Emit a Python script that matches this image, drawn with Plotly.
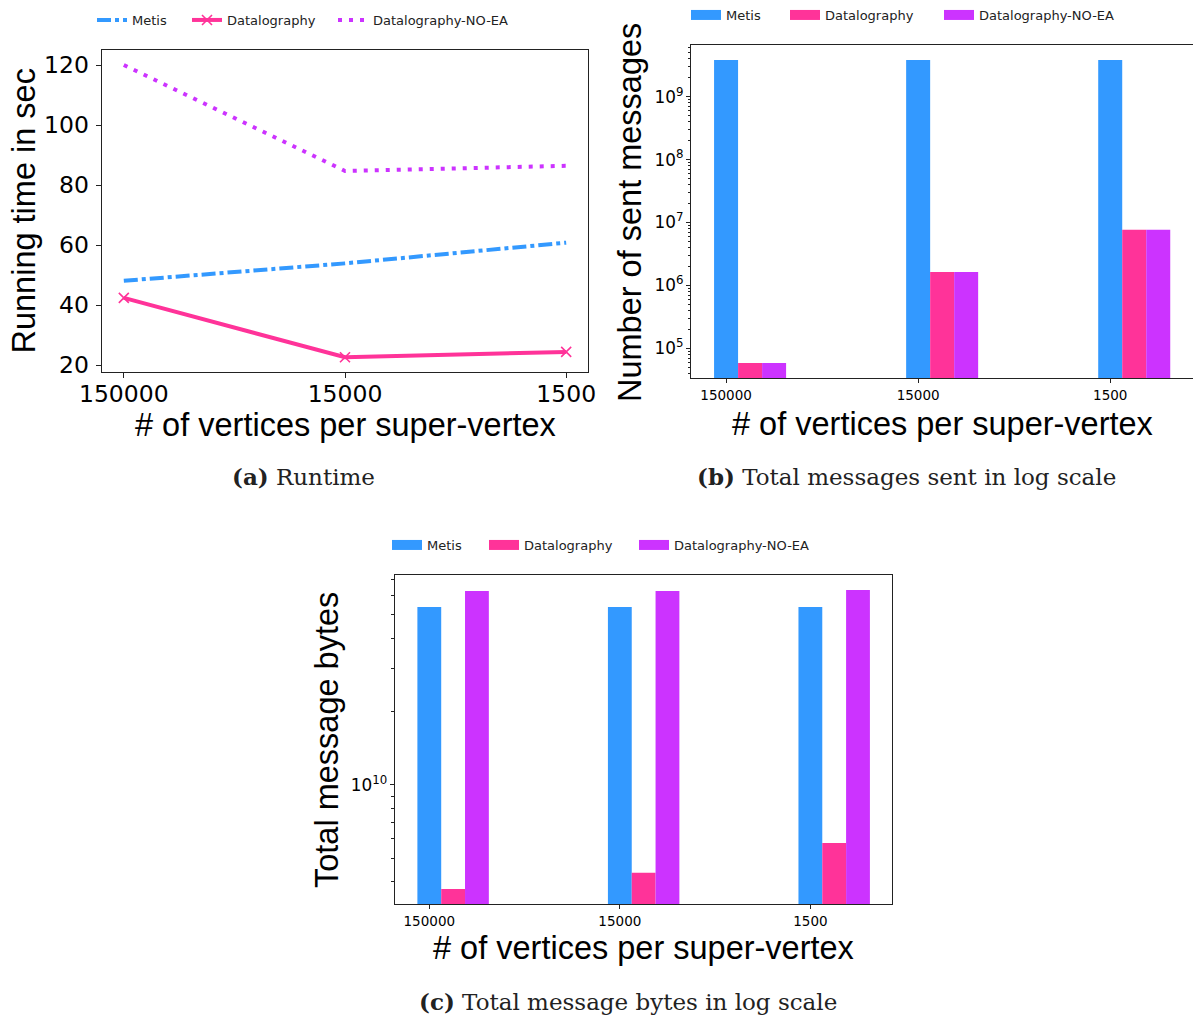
import plotly.graph_objects as go

W, H = 1193, 1017

categories = ["150000", "15000", "1500"]
series_names = ["Metis", "Datalography", "Datalography-NO-EA"]
colors = ["#3399FF", "#FF3399", "#CC33FF"]

runtime_metis = [48.1, 53.9, 60.8]
runtime_datalog = [42.4, 22.6, 24.4]
runtime_noea = [120.0, 84.7, 86.4]

msgs_metis = [3.83e9, 3.83e9, 3.83e9]
msgs_datalog = [5.84e4, 1.63e6, 7.64e6]
msgs_noea = [5.84e4, 1.63e6, 7.64e6]

bytes_metis = [5.38e10, 5.38e10, 5.38e10]
bytes_datalog = [3.74e9, 4.36e9, 5.78e9]
bytes_noea = [6.25e10, 6.25e10, 6.31e10]

y_ticks_runtime = [20, 40, 60, 80, 100, 120]

xpos = list(range(len(categories)))


def px(x):
    return x / W


def py(y):
    return 1 - y / H


fig = go.Figure()

# ---------- (a) runtime lines ----------
fig.add_trace(go.Scatter(x=xpos, y=runtime_metis, mode="lines", name=series_names[0],
                         line=dict(color=colors[0], width=4, dash="14px,4px,4px,4px"),
                         xaxis="x", yaxis="y", legend="legend"))
fig.add_trace(go.Scatter(x=xpos, y=runtime_datalog, mode="lines+markers", name=series_names[1],
                         line=dict(color=colors[1], width=4),
                         marker=dict(symbol="x-thin", size=10, line=dict(width=1.6, color=colors[1]), color=colors[1]),
                         xaxis="x", yaxis="y", legend="legend2"))
fig.add_trace(go.Scatter(x=xpos, y=runtime_noea, mode="lines", name=series_names[2],
                         line=dict(color=colors[2], width=4, dash="4px,7px"),
                         xaxis="x", yaxis="y", legend="legend3"))

# ---------- (b) messages bars ----------
bar_w = 0.125
offsets = [-0.0625, 0.0625, 0.1875]
for i, (vals, name, col, off) in enumerate(zip([msgs_metis, msgs_datalog, msgs_noea], series_names, colors, offsets)):
    fig.add_trace(go.Bar(x=xpos, y=vals, name=name, marker=dict(color=col, line=dict(width=0)),
                         width=bar_w, offset=off, xaxis="x2", yaxis="y2", showlegend=False))
    fig.add_trace(go.Scatter(x=[None], y=[None], mode="lines", name=name,
                             line=dict(color=col, width=10), xaxis="x2", yaxis="y2",
                             legend="legend%d" % (4 + i)))

# ---------- (c) bytes bars ----------
for i, (vals, name, col, off) in enumerate(zip([bytes_metis, bytes_datalog, bytes_noea], series_names, colors, offsets)):
    fig.add_trace(go.Bar(x=xpos, y=vals, name=name, marker=dict(color=col, line=dict(width=0)),
                         width=bar_w, offset=off, xaxis="x3", yaxis="y3", showlegend=False))
    fig.add_trace(go.Scatter(x=[None], y=[None], mode="lines", name=name,
                             line=dict(color=col, width=10), xaxis="x3", yaxis="y3",
                             legend="legend%d" % (7 + i)))

axcol = "#222222"
common_x = dict(tickmode="array", tickvals=xpos, ticktext=categories, showgrid=False, zeroline=False,
                showline=True, linecolor=axcol, linewidth=1.2, ticks="outside", ticklen=5,
                tickwidth=1.1, tickcolor=axcol, mirror=True, automargin=False)
common_y = dict(showgrid=False, zeroline=False, showline=True, linecolor=axcol, linewidth=1.2,
                ticks="outside", ticklen=5, tickwidth=1.1, tickcolor=axcol, mirror=True, automargin=False)

tickfont_big = dict(family="DejaVu Sans", size=23.5, color="black")
tickfont_small = dict(family="DejaVu Sans", size=13.5, color="black")

fig.update_layout(
    width=W, height=H, margin=dict(l=0, r=0, t=0, b=0, autoexpand=False),
    paper_bgcolor="white", plot_bgcolor="white",
    barmode="overlay",
    xaxis=dict(common_x, domain=[px(101.7), px(588.3)], range=[-0.1, 2.1], anchor="y",
               tickfont=tickfont_big, ticklabelstandoff=-4),
    yaxis=dict(common_y, domain=[py(371.7), py(50)], range=[17.8, 125], anchor="x",
               tickmode="array", tickvals=y_ticks_runtime, tickfont=tickfont_big, ticklabelstandoff=2),
    xaxis2=dict(common_x, domain=[px(691.3), 1.0], range=[-0.181, 2.431], anchor="y2",
                tickfont=tickfont_small, ticklen=4),
    yaxis2=dict(common_y, domain=[py(378.3), py(45)], type="log", range=[4.523, 9.822], anchor="x2",
                dtick=1, exponentformat="power", tickfont=tickfont_small, mirror=False, ticklen=4,
                minor=dict(ticks="outside", ticklen=2.5, tickwidth=0.8, tickcolor=axcol, showgrid=False)),
    xaxis3=dict(common_x, domain=[px(395), px(892.3)], range=[-0.18, 2.43], anchor="y3",
                tickfont=tickfont_small, ticklen=4),
    yaxis3=dict(common_y, domain=[py(904.3), py(575)], type="log", range=[9.510, 10.862], anchor="x3",
                dtick=1, exponentformat="power", tickfont=tickfont_small, ticklen=4,
                minor=dict(ticks="outside", ticklen=2.5, tickwidth=0.8, tickcolor=axcol, showgrid=False)),
)

legend_font = dict(family="DejaVu Sans", size=13, color="#222")
# text start positions (px) and row centres of the three legend rows
legend_text_x = [132, 227, 373, 726, 825, 979, 427, 524, 674]
legend_row_y = [20, 20, 20, 15, 15, 15, 545, 545, 545]
for k, (tx, ty) in enumerate(zip(legend_text_x, legend_row_y)):
    key = "legend" if k == 0 else "legend%d" % (k + 1)
    fig.update_layout({key: dict(orientation="h", x=px(tx - 40), xanchor="left", y=py(ty), yanchor="middle",
                                 font=legend_font, bgcolor="rgba(0,0,0,0)", itemwidth=30,
                                 traceorder="normal")})

title_font = dict(family="Liberation Sans, Arial", size=32.5, color="black")
cap_font = dict(family="DejaVu Serif", size=23, color="#222")


def ann(text, x, y, font, angle=0):
    fig.add_annotation(text=text, x=px(x), y=py(y), xref="paper", yref="paper",
                       xanchor="center", yanchor="middle", showarrow=False, font=font, textangle=angle)


ann("Running time in sec", 23.5, 211, title_font, -90)
ann("# of vertices per super-vertex", 345, 425, title_font)
ann("Number of sent messages", 630, 212, title_font, -90)
ann("# of vertices per super-vertex", 942, 424, title_font)
ann("Total message bytes", 327, 740, title_font, -90)
ann("# of vertices per super-vertex", 643, 948, title_font)

ann("<b>(a)</b> Runtime", 303, 476, cap_font)
ann("<b>(b)</b> Total messages sent in log scale", 906, 476, cap_font)
ann("<b>(c)</b> Total message bytes in log scale", 628, 1001, cap_font)

fig.write_html("out.html")
